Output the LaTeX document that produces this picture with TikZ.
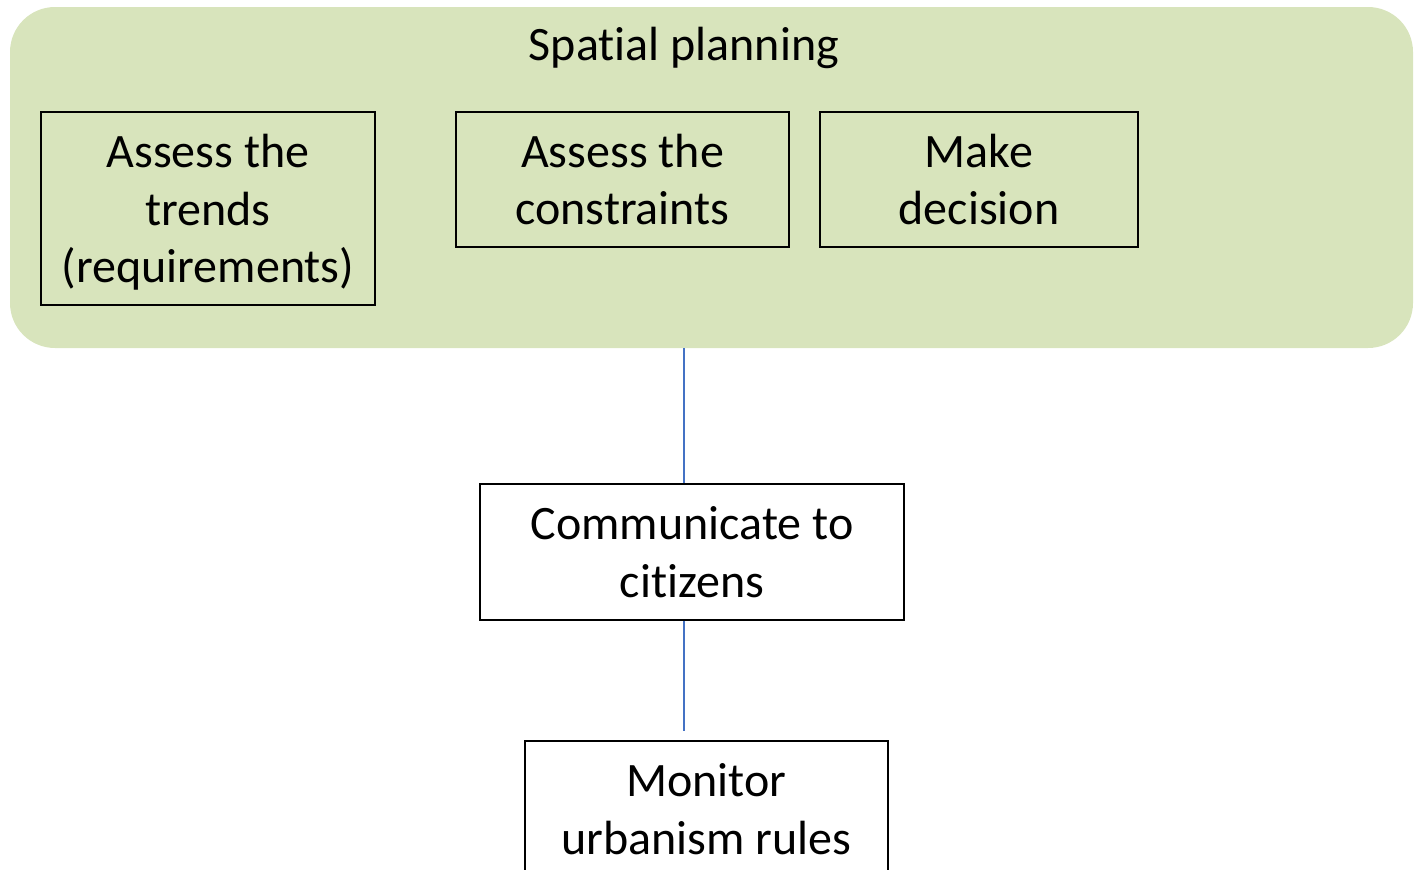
\documentclass[tikz,border=0pt]{standalone}
\usepackage{fontspec}
\setmainfont{Carlito}[Ligatures=NoCommon]
\definecolor{groupgreen}{HTML}{D8E4BC}
\definecolor{linkblue}{HTML}{4472C4}
\begin{document}
\begin{tikzpicture}[x=1pt,y=-1pt,
  box/.style={draw=black, line width=1.5pt, align=center, inner sep=0pt,
    font=\fontsize{48}{57.5}\selectfont},
  conn/.style={draw=linkblue, line width=1.5pt}]
\useasboundingbox (0,0) rectangle (1414,870);
\clip (0,0) rectangle (1414,870);
\node[fill=groupgreen, rounded corners=45pt, minimum width=1403pt, minimum height=341pt, inner sep=0pt] (group) at (711.5,177.5) {};
\node[font=\fontsize{48}{57.5}\selectfont, inner sep=0pt, anchor=base] (title) at (684,60) {Spatial planning};
\node[box, minimum width=334pt, minimum height=193pt] (trends) at (208,208.5) {Assess the\\trends\\\smash{(requirements)}};
\node[box, minimum width=333pt, minimum height=135pt] (constr) at (622.5,179.5) {Assess the\\constraints};
\node[box, minimum width=318pt, minimum height=135pt] (decide) at (979,179.5) {Make\\decision};
\node[box, minimum width=424pt, minimum height=136pt] (comm) at (692,552) {Communicate to\\citizens};
\node[box, minimum width=363pt, minimum height=136pt] (monitor) at (706.5,809) {Monitor\\urbanism rules};
\coordinate (gap) at (684,731);
\draw[conn] (group.south -| title) -- (comm.north -| title);
\draw[conn] (comm.south -| title) -- (gap);
\end{tikzpicture}
\end{document}
